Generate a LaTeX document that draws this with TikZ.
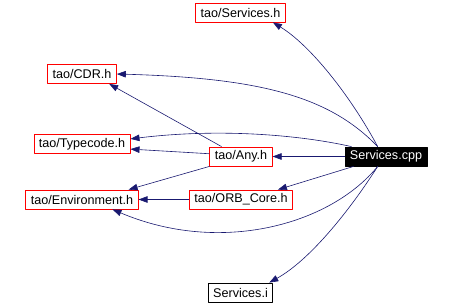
\documentclass[tikz,border=0pt]{standalone}
\usepackage{fontspec}
\setmainfont{Liberation Sans}
\usetikzlibrary{arrows.meta}
\definecolor{edgeblue}{HTML}{191970}
\begin{document}
\begin{tikzpicture}[x=1pt,y=-1pt,line join=round,>={Triangle[length=9pt,width=6.5pt]},
	font=\fontsize{12.6}{14}\selectfont,
	file/.style={draw=red,line width=0.8pt,minimum height=19pt,inner xsep=5pt,inner ysep=0pt},
	plain/.style={file,draw=black},
	main/.style={file,draw=black,fill=black,text=white},
	dep/.style={->,draw=edgeblue,line width=0.6pt}]
	\useasboundingbox (0,0) rectangle (454,305);
	\node[file] (svch) at (240.5,12.5) {tao/Services.h};
	\node[file] (cdr) at (82,74) {tao/CDR.h};
	\node[file] (tc) at (82,144) {tao/Typecode.h};
	\node[file] (any) at (241,156.5) {tao/Any.h};
	\node[main] (cpp) at (386,156.5) {Services.cpp};
	\node[file] (env) at (82,199.5) {tao/Environment.h};
	\node[file] (orb) at (241,199.5) {tao/ORB\_Core.h};
	\node[plain] (svi) at (240.5,292.5) {Services.i};
	% includes of Services.cpp
	\draw[dep] (cpp.130) .. controls (350,95) and (310,45) .. (svch.-17);
	\draw[dep] (cpp.130) .. controls (330,97) and (262,78) .. (cdr.east);
	\draw[dep] (cpp.164) .. controls (300,135) and (220,128) .. (tc.6);
	\draw[dep] (cpp) -- (any);
	\draw[dep] (cpp.-163) -- (orb.15);
	\draw[dep] (cpp.-130) .. controls (330,225) and (220,255) .. (env.-18);
	\draw[dep] (cpp.-130) .. controls (350,210) and (310,260) .. (svi.19);
	% includes of the headers
	\draw[dep] (any.153) -- (cdr.-20);
	\draw[dep] (any.175) -- (tc.-6);
	\draw[dep] (any.south west) -- (env.12);
	\draw[dep] (orb) -- (env);
\end{tikzpicture}
\end{document}
